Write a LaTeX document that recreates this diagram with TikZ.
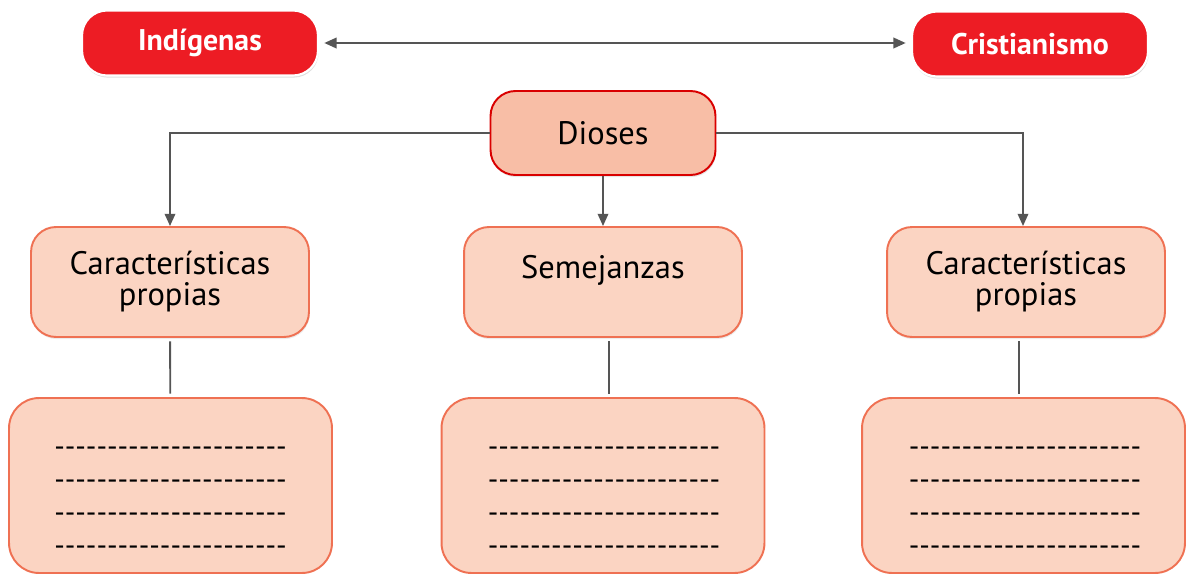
\documentclass[tikz,border=0pt]{standalone}
\usepackage{fontspec}
\setmainfont{PT Sans}
\usetikzlibrary{arrows.meta,shadows}
\definecolor{rojo}{HTML}{ED1C24}
\definecolor{rosa}{HTML}{F8BEA6}
\definecolor{salmon}{HTML}{FBD4C2}
\definecolor{borde}{HTML}{EF7153}
\definecolor{gris}{HTML}{555555}
\newcommand\fila{\foreach \k in {1,...,22}{-\kern0pt}}
\begin{document}
\begin{tikzpicture}[x=0.02cm,y=-0.02cm,
    titulo/.style={shape=rectangle,rounded corners=0.5cm,fill=rojo,draw=white,line width=1.2pt,
      minimum width=4.72cm,minimum height=1.3cm,text=white,font=\fontsize{17}{18}\selectfont\bfseries,
      drop shadow={shadow xshift=0.4pt,shadow yshift=-1.2pt,opacity=0.25}},
    dios/.style={shape=rectangle,rounded corners=0.5cm,fill=rosa,draw=red!85!black,line width=1.1pt,
      minimum width=4.5cm,minimum height=1.68cm,font=\fontsize{18.5}{18}\selectfont,
      drop shadow={shadow xshift=0.4pt,shadow yshift=-1.2pt,opacity=0.2}},
    caja/.style={shape=rectangle,rounded corners=0.5cm,fill=salmon,draw=borde,line width=1.1pt,
      minimum width=5.56cm,minimum height=2.2cm,align=center,
      font=\fontsize{18.5}{17.6}\selectfont,
      drop shadow={shadow xshift=0.4pt,shadow yshift=-1.2pt,opacity=0.15}},
    notas/.style={shape=rectangle,rounded corners=0.6cm,fill=salmon,draw=borde,line width=1.1pt,
      minimum width=6.46cm,minimum height=3.5cm},
    lineas/.style={align=center,font=\fontsize{16.7}{18.7}\selectfont},
    punta/.style={-{Triangle[length=7pt,width=6pt]}},
    flecha/.style={draw=gris,line width=1.1pt,punta},
    doble/.style={draw=gris,line width=1.1pt,{Triangle[length=7pt,width=6pt]}-{Triangle[length=7pt,width=6pt]}},
    linea/.style={draw=gris,line width=1.1pt}]
  \useasboundingbox (0,0) rectangle (1186,575);

  % cajas de arriba
  \node[titulo] (ind) at (200,43) {Indígenas};
  \node[titulo] (cris) at (1030,44) {Cristianismo};
  \node[dios] (dios) at (603,133) {Dioses};

  % segundo nivel
  \node[caja] (carL) at (170,282) {Características\\propias};
  \node[caja] (semej) at (603,282) {Semejanzas\\\mbox{}};
  \node[caja] (carR) at (1026,282) {Características\\propias};

  % cajas para escribir
  \node[notas] (notL) at (170.5,485.5) {};
  \node[notas] (notM) at (603,485.5) {};
  \node[notas] (notR) at (1023.5,485.5) {};
  \node[lineas] (filL) at (170.5,501) {\fila\\\fila\\\fila\\\fila};
  \node[lineas] (filM) at (604,501) {\fila\\\fila\\\fila\\\fila};
  \node[lineas] (filR) at (1025,501) {\fila\\\fila\\\fila\\\fila};

  %flechas
  \draw[doble,shorten <=3pt,shorten >=3pt] (ind.east) -- (ind.east -| cris.west);
  \draw[flecha] (dios.west) -| (carL.north);
  \draw[flecha] (dios.south) -- (semej.north);
  \draw[flecha] (dios.east) -| ([xshift=-0.06cm]carR.north);

  % lineas verticales
  \draw[linea,shorten <=2pt,shorten >=2pt] (carL) -- (notL);
  \draw[linea,shorten <=2pt,shorten >=2pt] ([xshift=0.12cm]semej.south) -- ([xshift=0.12cm]notM.north);
  \draw[linea,shorten <=2pt,shorten >=2pt] ([xshift=-0.14cm]carR.south) -- ([xshift=-0.14cm]carR.south |- notR.north);
\end{tikzpicture}
\end{document}
